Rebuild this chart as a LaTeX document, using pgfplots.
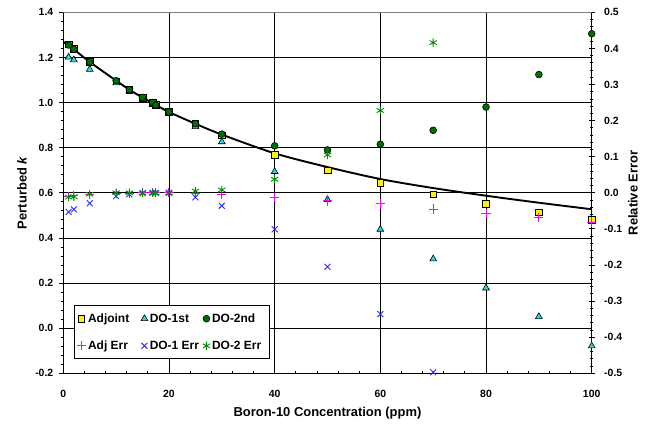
\documentclass[border=0pt]{standalone}
\usepackage{fontspec}
\setmainfont{Liberation Sans}
\usepackage{pgfplots}
\pgfplotsset{compat=1.18}
\definecolor{cyantri}{RGB}{40,220,220}
\definecolor{dkgreen}{RGB}{0,110,0}
\definecolor{astgreen}{RGB}{0,140,0}
\definecolor{errblue}{RGB}{40,40,255}
\definecolor{errmag}{RGB}{255,0,255}
\begin{document}
\begin{tikzpicture}
\pgfplotsset{
  tlfont/.style={font=\fontsize{10.5}{12}\selectfont\bfseries},
  adjstyle/.style={black, only marks, mark=square*, mark size=3.3bp, mark options={fill=yellow, draw=black, line width=0.6bp}},
  do1style/.style={black, only marks, mark=triangle*, mark size=3.9bp, mark options={fill=cyantri, draw=black, line width=0.6bp}},
  do2style/.style={black, only marks, mark=*, mark size=3.4bp, mark options={fill=dkgreen, draw=black, line width=0.6bp}},
  adjerr/.style={errmag, only marks, mark=+, mark size=4.6bp, mark options={draw=errmag, line width=1bp}},
  do1err/.style={errblue, only marks, mark=x, mark size=4.2bp, mark options={draw=errblue, line width=0.9bp}},
  do2err/.style={astgreen, only marks, mark=asterisk, mark size=4.2bp, mark options={draw=astgreen, line width=0.9bp}},
}
\begin{axis}[
  set layers,
  at={(0,0)}, anchor=south west,
  scale only axis, width=528.4bp, height=361bp,
  xmin=0, xmax=100, ymin=-0.2, ymax=1.4,
  axis x line*=bottom, axis y line*=left,
  axis line style={black, line width=1bp},
  xtick={0,20,40,60,80,100},
  ytick={-0.2,0,0.2,0.4,0.6,0.8,1.0,1.2,1.4},
  minor x tick num=4, minor y tick num=4,
  tick align=outside,
  major tick length=4bp, minor tick length=2.5bp,
  major x tick style={yshift=4bp},
  minor x tick style={yshift=2.5bp},
  tick style={black, line width=0.8bp},
  grid=major,
  major grid style={black, line width=0.6bp},
  every tick label/.append style={tlfont},
  /pgf/number format/assume math mode=true,
  yticklabel={\pgfmathprintnumber[fixed, fixed zerofill, precision=1]{\tick}},
  yticklabel style={xshift=-2.5bp},
  xticklabel style={yshift=-9bp},
  xlabel={Boron-10 Concentration (ppm)},
  ylabel={Perturbed \textit{k}},
  label style={font=\fontsize{13}{15}\selectfont\bfseries},
  xlabel style={at={(axis description cs:0.5,-0.12)}, anchor=base},
  ylabel style={at={(axis description cs:-0.078,0.5)}, anchor=center},
]
\draw[gray, line width=0.8bp] (rel axis cs:0,1) -- (rel axis cs:1,1);
% exact reference curve
\addplot[black, line width=1.9bp, smooth, no marks] coordinates {
(0,1.268) (1,1.255) (2,1.236) (5,1.180) (10,1.097) (12.5,1.057) (15,1.022)
(17.5,0.990) (20,0.958) (25,0.906) (30,0.858) (40,0.775) (50,0.714)
(60,0.661) (70,0.621) (80,0.587) (90,0.556) (100,0.527)};
% Adjoint
\addplot[adjstyle] coordinates {
(1,1.258) (2,1.238) (5,1.181) (10,1.095) (12.5,1.057) (15,1.022) (16.9,0.999)
(17.5,0.989) (20,0.958) (25,0.905) (30,0.855) (40,0.769) (50,0.700)
(60,0.644) (70,0.593) (80,0.552) (90,0.514) (100,0.480)};
% DO-1st
\addplot[do1style] coordinates {
(1,1.201) (2,1.189) (5,1.147) (10,1.087) (12.5,1.053) (15,1.019) (16.9,0.996)
(17.5,0.986) (20,0.954) (25,0.893) (30,0.826) (40,0.694) (50,0.570)
(60,0.438) (70,0.307) (80,0.178) (90,0.051) (100,-0.079)};
% DO-2nd
\addplot[do2style] coordinates {
(1,1.255) (2,1.236) (5,1.180) (10,1.097) (12.5,1.057) (15,1.023) (16.9,1.000)
(17.5,0.988) (20,0.958) (25,0.906) (30,0.860) (40,0.808) (50,0.790)
(60,0.815) (70,0.877) (80,0.980) (90,1.124) (100,1.305)};
\end{axis}
\begin{axis}[
  set layers,
  at={(0,0)}, anchor=south west,
  scale only axis, width=528.4bp, height=361bp,
  xmin=0, xmax=100, ymin=-0.5, ymax=0.5,
  axis x line=none, axis y line*=right,
  axis line style={black, line width=1bp},
  ytick={-0.5,-0.4,-0.3,-0.2,-0.1,0,0.1,0.2,0.3,0.4,0.5},
  minor y tick num=4,
  tick align=center,
  major tick length=6bp, minor tick length=3.5bp,
  tick style={black, line width=0.8bp},
  every tick label/.append style={tlfont},
  /pgf/number format/assume math mode=true,
  yticklabel={\pgfmathprintnumber[fixed, fixed zerofill, precision=1]{\tick}},
  yticklabel style={xshift=6bp},
  ylabel={Relative Error},
  label style={font=\fontsize{13}{15}\selectfont\bfseries},
  ylabel style={at={(axis description cs:1.078,0.5)}, anchor=center, rotate=0},
  legend columns=3,
  legend style={
    at={(axis description cs:0.0202,0.0388)}, anchor=south west,
    draw=black, line width=0.8bp, fill=white,
    font=\fontsize{12}{14}\selectfont\bfseries,
    inner xsep=2.5bp, inner ysep=6bp,
    /tikz/row sep=13bp,
    /tikz/every even column/.append style={column sep=0bp},
  },
  legend image post style={line width=0.6bp},
  legend cell align=left,
]
\addlegendimage{adjstyle}
\addlegendentry{\makebox[51bp][l]{Adjoint}}
\addlegendimage{do1style}
\addlegendentry{\makebox[51bp][l]{DO-1st}}
\addlegendimage{do2style}
\addlegendentry{\makebox[53bp][l]{DO-2nd}}
% Adj Err
\addplot[adjerr] coordinates {
(1,-0.010) (2,-0.008) (5,-0.004) (10,-0.002) (12.5,-0.001) (15,0.000) (16.9,0.000)
(17.5,0.000) (20,0.000) (25,-0.001) (30,-0.004) (40,-0.0125) (50,-0.0225)
(60,-0.031) (70,-0.045) (80,-0.057) (90,-0.069) (100,-0.081)};
\addlegendentry{Adj Err}
% DO-1 Err
\addplot[do1err] coordinates {
(1,-0.053) (2,-0.046) (5,-0.029) (10,-0.009) (12.5,-0.004) (15,-0.001) (16.9,0.000)
(17.5,0.000) (20,0.000) (25,-0.0125) (30,-0.036) (40,-0.101) (50,-0.205)
(60,-0.336) (70,-0.497)};
\addlegendentry{DO-1 Err}
% DO-2 Err
\addplot[do2err] coordinates {
(1,-0.012) (2,-0.011) (5,-0.004) (10,0.000) (12.5,0.000) (15,0.000) (16.9,0.000)
(17.5,0.000) (20,0.000) (25,0.005) (30,0.008) (40,0.0375) (50,0.105)
(60,0.228) (70,0.416)};
\addlegendentry{DO-2 Err}
\end{axis}
\pgfresetboundingbox
\path[use as bounding box] (-63.3bp,-50.7bp) rectangle (586.7bp,373.3bp);
\end{tikzpicture}
\end{document}
